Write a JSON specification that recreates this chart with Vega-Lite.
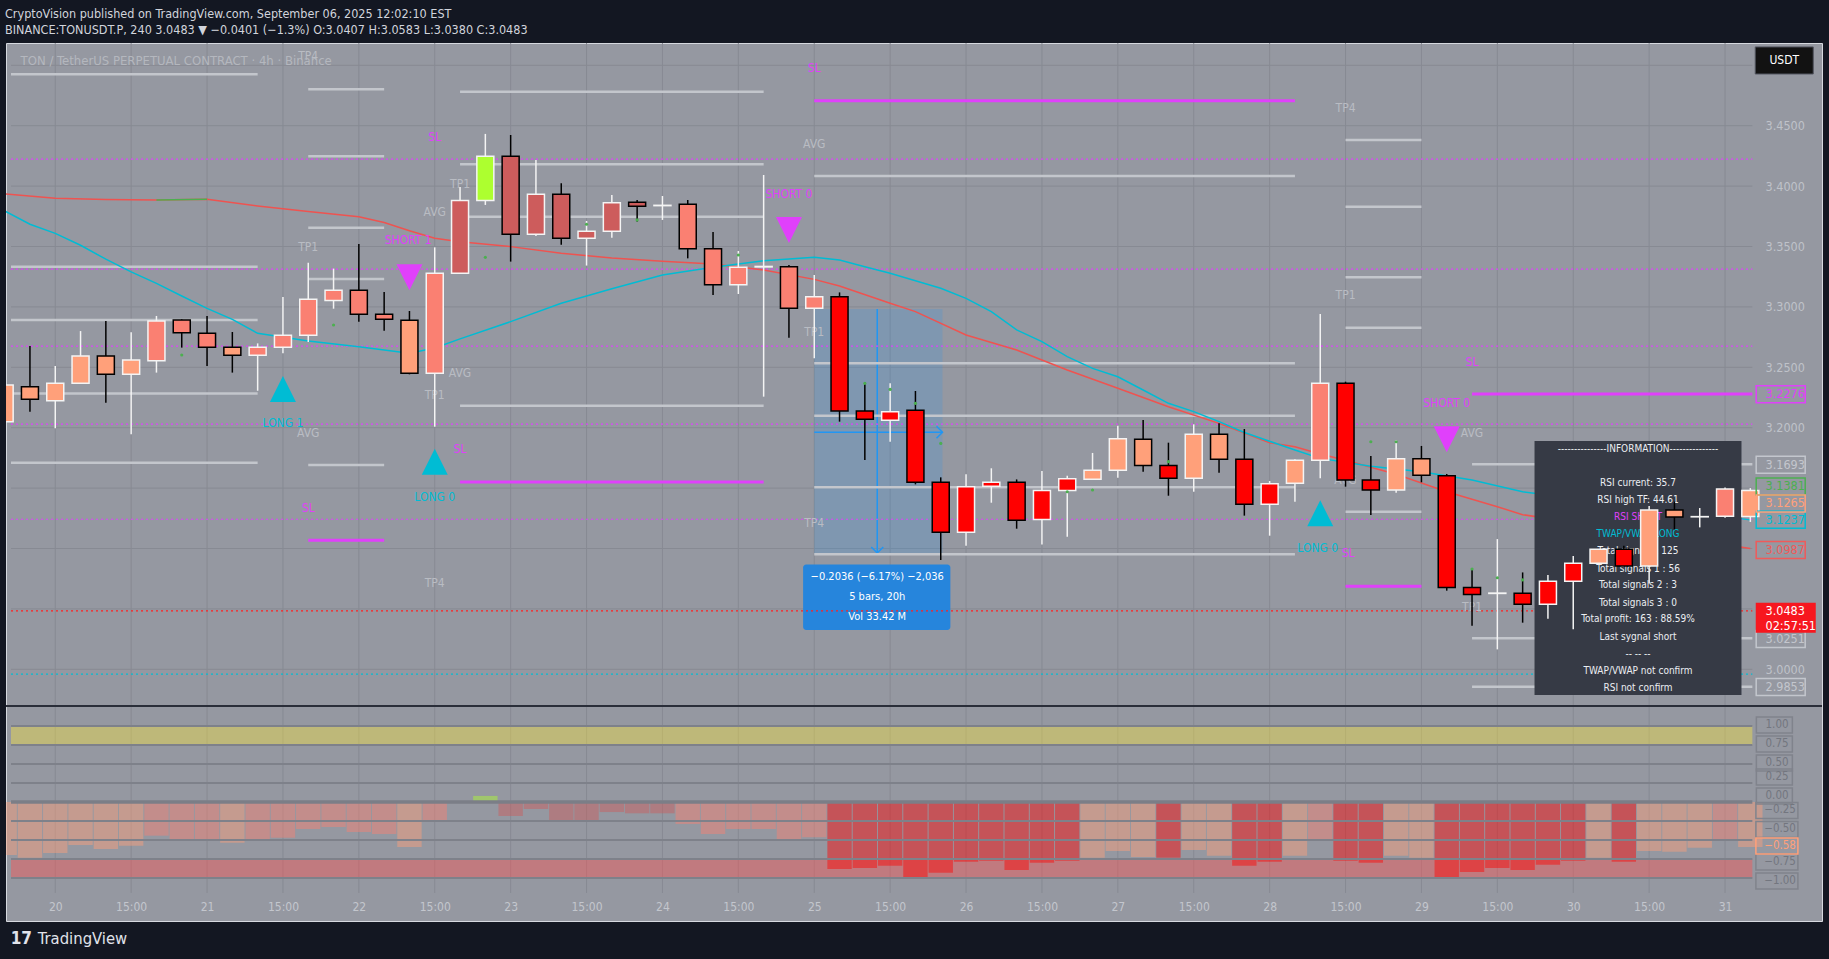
{
"$schema": "https://vega.github.io/schema/vega-lite/v6.json",
"width": 1816, "height": 878,
"autosize": "none",
"padding": {"left": 6, "top": 43, "right": 7, "bottom": 38},
"background": "#131722",
"config": {"view": {"fill": "#9598a1", "stroke": "#d6d9df", "strokeWidth": 1}, "font": "DejaVu Sans Condensed, DejaVu Sans, sans-serif", "text": {"font": "DejaVu Sans Condensed, DejaVu Sans, sans-serif"}},
"title": {"text": "CryptoVision published on TradingView.com, September 06, 2025 12:02:10 EST", "subtitle": "BINANCE:TONUSDT.P, 240  3.0483 ▼ −0.0401 (−1.3%)  O:3.0407  H:3.0583  L:3.0380  C:3.0483", "anchor": "start", "frame": "group", "orient": "top", "offset": 6, "fontSize": 12.5, "fontWeight": "normal", "color": "#d1d4dc", "subtitleFontSize": 12.5, "subtitleColor": "#d1d4dc", "subtitlePadding": 4, "font": "DejaVu Sans Condensed, DejaVu Sans, sans-serif", "subtitleFont": "DejaVu Sans Condensed, DejaVu Sans, sans-serif", "dx": -1},
"datasets": {
"candles": [
{"i":-2,"o":3.205,"h":3.24,"l":3.198,"c":3.2353,"k":"ls"},
{"i":-1,"o":3.234,"h":3.2677,"l":3.2133,"c":3.2235,"k":"ls"},
{"i":0,"o":3.2224,"h":3.251,"l":3.1995,"c":3.2367,"k":"ls"},
{"i":1,"o":3.2367,"h":3.28,"l":3.2367,"c":3.2594,"k":"ls"},
{"i":2,"o":3.2594,"h":3.2883,"l":3.2207,"c":3.2442,"k":"ls"},
{"i":3,"o":3.2442,"h":3.279,"l":3.1945,"c":3.256,"k":"ls"},
{"i":4,"o":3.2555,"h":3.2925,"l":3.2456,"c":3.2883,"k":"s"},
{"i":5,"o":3.2892,"h":3.2897,"l":3.2663,"c":3.2787,"k":"s"},
{"i":6,"o":3.2781,"h":3.2925,"l":3.251,"c":3.2665,"k":"s"},
{"i":7,"o":3.2665,"h":3.2792,"l":3.2456,"c":3.2599,"k":"ls"},
{"i":8,"o":3.2599,"h":3.2698,"l":3.2306,"c":3.2665,"k":"s"},
{"i":9,"o":3.2665,"h":3.3082,"l":3.2616,"c":3.2765,"k":"s"},
{"i":10,"o":3.2765,"h":3.3366,"l":3.271,"c":3.3063,"k":"s"},
{"i":11,"o":3.3054,"h":3.3317,"l":3.2985,"c":3.3137,"k":"s"},
{"i":12,"o":3.3137,"h":3.3521,"l":3.2878,"c":3.2939,"k":"s"},
{"i":13,"o":3.2939,"h":3.3123,"l":3.2803,"c":3.2897,"k":"s"},
{"i":14,"o":3.2889,"h":3.2966,"l":3.2442,"c":3.245,"k":"ls"},
{"i":15,"o":3.245,"h":3.3493,"l":3.2008,"c":3.3278,"k":"s"},
{"i":16,"o":3.3278,"h":3.3993,"l":3.3278,"c":3.388,"k":"ir"},
{"i":17,"o":3.388,"h":3.4432,"l":3.3844,"c":3.4247,"k":"g"},
{"i":18,"o":3.4247,"h":3.4423,"l":3.3375,"c":3.3601,"k":"ir"},
{"i":19,"o":3.3601,"h":3.4216,"l":3.3587,"c":3.3932,"k":"ir"},
{"i":20,"o":3.3932,"h":3.4023,"l":3.3515,"c":3.3568,"k":"ir"},
{"i":21,"o":3.3568,"h":3.3711,"l":3.3342,"c":3.3626,"k":"ir"},
{"i":22,"o":3.3626,"h":3.3927,"l":3.3573,"c":3.3863,"k":"ir"},
{"i":23,"o":3.3866,"h":3.3885,"l":3.3706,"c":3.3833,"k":"ir"},
{"i":24,"o":3.3838,"h":3.3918,"l":3.372,"c":3.3841,"k":"w"},
{"i":25,"o":3.3849,"h":3.3885,"l":3.3402,"c":3.3482,"k":"s"},
{"i":26,"o":3.3482,"h":3.362,"l":3.3099,"c":3.3184,"k":"s"},
{"i":27,"o":3.3184,"h":3.3463,"l":3.3107,"c":3.3328,"k":"s"},
{"i":28,"o":3.3331,"h":3.4092,"l":3.2257,"c":3.3335,"k":"w"},
{"i":29,"o":3.3333,"h":3.3347,"l":3.2745,"c":3.2988,"k":"s"},
{"i":30,"o":3.2988,"h":3.3264,"l":3.2574,"c":3.3085,"k":"s"},
{"i":31,"o":3.3085,"h":3.312,"l":3.205,"c":3.2138,"k":"r"},
{"i":32,"o":3.2138,"h":3.2376,"l":3.1733,"c":3.2069,"k":"r"},
{"i":33,"o":3.2061,"h":3.2367,"l":3.1884,"c":3.2133,"k":"r"},
{"i":34,"o":3.2144,"h":3.2304,"l":3.1531,"c":3.1548,"k":"r"},
{"i":35,"o":3.1548,"h":3.1589,"l":3.0905,"c":3.1134,"k":"r"},
{"i":36,"o":3.1134,"h":3.1614,"l":3.1023,"c":3.1512,"k":"r"},
{"i":37,"o":3.1515,"h":3.1664,"l":3.1379,"c":3.1548,"k":"r"},
{"i":38,"o":3.1548,"h":3.1572,"l":3.1164,"c":3.1233,"k":"r"},
{"i":39,"o":3.1241,"h":3.1642,"l":3.1034,"c":3.1481,"k":"r"},
{"i":40,"o":3.1481,"h":3.1603,"l":3.1098,"c":3.1578,"k":"r"},
{"i":41,"o":3.1573,"h":3.1791,"l":3.1567,"c":3.1647,"k":"ls"},
{"i":42,"o":3.1647,"h":3.2017,"l":3.1586,"c":3.1909,"k":"ls"},
{"i":43,"o":3.1904,"h":3.2064,"l":3.1636,"c":3.1688,"k":"ls"},
{"i":44,"o":3.1688,"h":3.1876,"l":3.1437,"c":3.1581,"k":"r"},
{"i":45,"o":3.1581,"h":3.2028,"l":3.147,"c":3.1945,"k":"ls"},
{"i":46,"o":3.1945,"h":3.2036,"l":3.1628,"c":3.1738,"k":"ls"},
{"i":47,"o":3.1738,"h":3.1989,"l":3.1272,"c":3.1366,"k":"r"},
{"i":48,"o":3.1366,"h":3.1559,"l":3.1106,"c":3.1537,"k":"r"},
{"i":49,"o":3.154,"h":3.1738,"l":3.1388,"c":3.173,"k":"ls"},
{"i":50,"o":3.173,"h":3.2941,"l":3.1581,"c":3.2367,"k":"s"},
{"i":51,"o":3.2367,"h":3.2381,"l":3.1512,"c":3.1567,"k":"r"},
{"i":52,"o":3.1567,"h":3.1766,"l":3.1277,"c":3.1484,"k":"r"},
{"i":53,"o":3.1484,"h":3.1898,"l":3.1462,"c":3.1744,"k":"ls"},
{"i":54,"o":3.1744,"h":3.1849,"l":3.1548,"c":3.1606,"k":"ls"},
{"i":55,"o":3.1603,"h":3.1617,"l":3.0651,"c":3.0678,"k":"r"},
{"i":56,"o":3.0678,"h":3.083,"l":3.0361,"c":3.062,"k":"r"},
{"i":57,"o":3.0628,"h":3.1078,"l":3.0165,"c":3.0631,"k":"w"},
{"i":58,"o":3.0629,"h":3.0802,"l":3.0386,"c":3.0538,"k":"r"},
{"i":59,"o":3.0538,"h":3.078,"l":3.0419,"c":3.0728,"k":"r"},
{"i":60,"o":3.0728,"h":3.0938,"l":3.0331,"c":3.0877,"k":"r"},
{"i":61,"o":3.0877,"h":3.0993,"l":3.0877,"c":3.0993,"k":"ls"},
{"i":62,"o":3.0993,"h":3.1023,"l":3.0855,"c":3.0855,"k":"r"},
{"i":63,"o":3.0855,"h":3.1352,"l":3.0711,"c":3.1319,"k":"ls"},
{"i":64,"o":3.1319,"h":3.1388,"l":3.1158,"c":3.1261,"k":"ls"},
{"i":65,"o":3.1262,"h":3.1335,"l":3.1175,"c":3.1264,"k":"w"},
{"i":66,"o":3.1266,"h":3.1506,"l":3.1255,"c":3.1493,"k":"s"},
{"i":67,"o":3.1265,"h":3.15,"l":3.122,"c":3.148,"k":"ls"}
],
"osc": [
{"i":-2,"v":-0.697,"k":"ls"},{"i":-1,"v":-0.733,"k":"ls"},{"i":0,"v":-0.671,"k":"ls"},{"i":1,"v":-0.566,"k":"ls"},{"i":2,"v":-0.618,"k":"ls"},{"i":3,"v":-0.575,"k":"ls"},{"i":4,"v":-0.443,"k":"s"},{"i":5,"v":-0.487,"k":"s"},{"i":6,"v":-0.5,"k":"s"},{"i":7,"v":-0.535,"k":"ls"},{"i":8,"v":-0.5,"k":"s"},{"i":9,"v":-0.47,"k":"s"},{"i":10,"v":-0.355,"k":"s"},{"i":11,"v":-0.329,"k":"s"},{"i":12,"v":-0.395,"k":"s"},{"i":13,"v":-0.421,"k":"s"},{"i":14,"v":-0.592,"k":"ls"},{"i":15,"v":-0.254,"k":"s"},{"i":16,"v":0,"k":"ir"},{"i":17,"v":0.08,"k":"g"},{"i":18,"v":-0.184,"k":"ir"},{"i":19,"v":-0.092,"k":"ir"},{"i":20,"v":-0.259,"k":"ir"},{"i":21,"v":-0.237,"k":"ir"},{"i":22,"v":-0.132,"k":"ir"},{"i":23,"v":-0.149,"k":"ir"},{"i":24,"v":-0.149,"k":"ir"},{"i":25,"v":-0.289,"k":"s"},{"i":26,"v":-0.421,"k":"s"},{"i":27,"v":-0.355,"k":"s"},{"i":28,"v":-0.355,"k":"s"},{"i":29,"v":-0.509,"k":"s"},{"i":30,"v":-0.465,"k":"s"},{"i":31,"v":-0.882,"k":"r"},{"i":32,"v":-0.868,"k":"r"},{"i":33,"v":-0.838,"k":"r"},{"i":34,"v":-0.996,"k":"r"},{"i":35,"v":-0.93,"k":"r"},{"i":36,"v":-0.785,"k":"r"},{"i":37,"v":-0.772,"k":"r"},{"i":38,"v":-0.895,"k":"r"},{"i":39,"v":-0.798,"k":"r"},{"i":40,"v":-0.772,"k":"r"},{"i":41,"v":-0.732,"k":"ls"},{"i":42,"v":-0.645,"k":"ls"},{"i":43,"v":-0.724,"k":"ls"},{"i":44,"v":-0.732,"k":"r"},{"i":45,"v":-0.632,"k":"ls"},{"i":46,"v":-0.706,"k":"ls"},{"i":47,"v":-0.838,"k":"r"},{"i":48,"v":-0.785,"k":"r"},{"i":49,"v":-0.706,"k":"ls"},{"i":50,"v":-0.491,"k":"s"},{"i":51,"v":-0.772,"k":"r"},{"i":52,"v":-0.798,"k":"r"},{"i":53,"v":-0.706,"k":"ls"},{"i":54,"v":-0.732,"k":"ls"},{"i":55,"v":-0.996,"k":"r"},{"i":56,"v":-0.92,"k":"r"},{"i":57,"v":-0.868,"k":"r"},{"i":58,"v":-0.895,"k":"r"},{"i":59,"v":-0.825,"k":"r"},{"i":60,"v":-0.772,"k":"r"},{"i":61,"v":-0.732,"k":"ls"},{"i":62,"v":-0.785,"k":"r"},{"i":63,"v":-0.645,"k":"ls"},{"i":64,"v":-0.654,"k":"ls"},{"i":65,"v":-0.601,"k":"ls"},{"i":66,"v":-0.491,"k":"s"},{"i":67,"v":-0.592,"k":"ls"}
],
"ema": [
{"i":-2,"p":3.3935,"s":"r"},{"i":0,"p":3.3899,"s":"r"},{"i":2,"p":3.389,"s":"r"},{"i":4,"p":3.3885,"s":"r"},{"i":6,"p":3.3891,"s":"r"},{"i":8,"p":3.3836,"s":"r"},{"i":10,"p":3.3789,"s":"r"},{"i":12,"p":3.3747,"s":"r"},{"i":13,"p":3.3698,"s":"r"},{"i":14,"p":3.3631,"s":"r"},{"i":15,"p":3.3568,"s":"r"},{"i":16,"p":3.354,"s":"r"},{"i":18,"p":3.3499,"s":"r"},{"i":20,"p":3.3444,"s":"r"},{"i":22,"p":3.3405,"s":"r"},{"i":24,"p":3.3377,"s":"r"},{"i":26,"p":3.3355,"s":"r"},{"i":28,"p":3.3306,"s":"r"},{"i":30,"p":3.3228,"s":"r"},{"i":31,"p":3.3173,"s":"r"},{"i":33,"p":3.303,"s":"r"},{"i":34,"p":3.2961,"s":"r"},{"i":36,"p":3.2767,"s":"r"},{"i":38,"p":3.2643,"s":"r"},{"i":40,"p":3.2478,"s":"r"},{"i":42,"p":3.2326,"s":"r"},{"i":44,"p":3.2174,"s":"r"},{"i":46,"p":3.2036,"s":"r"},{"i":48,"p":3.1875,"s":"r"},{"i":49,"p":3.1843,"s":"r"},{"i":50,"p":3.1782,"s":"r"},{"i":51,"p":3.173,"s":"r"},{"i":53,"p":3.1614,"s":"r"},{"i":55,"p":3.147,"s":"r"},{"i":57,"p":3.1346,"s":"r"},{"i":58,"p":3.128,"s":"r"},{"i":67,"p":3.1,"s":"r"},
{"i":4,"p":3.3885,"s":"g"},{"i":6,"p":3.3891,"s":"g"},
{"i":-2,"p":3.3795,"s":"c"},{"i":-1,"p":3.3684,"s":"c"},{"i":0,"p":3.3609,"s":"c"},{"i":1,"p":3.351,"s":"c"},{"i":2,"p":3.3395,"s":"c"},{"i":3,"p":3.329,"s":"c"},{"i":4,"p":3.3195,"s":"c"},{"i":5,"p":3.309,"s":"c"},{"i":6,"p":3.2988,"s":"c"},{"i":7,"p":3.2897,"s":"c"},{"i":8,"p":3.2781,"s":"c"},{"i":10,"p":3.2718,"s":"c"},{"i":12,"p":3.2671,"s":"c"},{"i":14,"p":3.2616,"s":"c"},{"i":15,"p":3.266,"s":"c"},{"i":16,"p":3.2735,"s":"c"},{"i":18,"p":3.2878,"s":"c"},{"i":20,"p":3.303,"s":"c"},{"i":22,"p":3.315,"s":"c"},{"i":24,"p":3.3264,"s":"c"},{"i":26,"p":3.3328,"s":"c"},{"i":28,"p":3.3383,"s":"c"},{"i":30,"p":3.341,"s":"c"},{"i":31,"p":3.3388,"s":"c"},{"i":32,"p":3.3333,"s":"c"},{"i":33,"p":3.3278,"s":"c"},{"i":34,"p":3.3217,"s":"c"},{"i":35,"p":3.3154,"s":"c"},{"i":36,"p":3.3071,"s":"c"},{"i":37,"p":3.2961,"s":"c"},{"i":38,"p":3.2809,"s":"c"},{"i":39,"p":3.2712,"s":"c"},{"i":40,"p":3.2588,"s":"c"},{"i":41,"p":3.2491,"s":"c"},{"i":42,"p":3.2422,"s":"c"},{"i":43,"p":3.2312,"s":"c"},{"i":44,"p":3.2202,"s":"c"},{"i":45,"p":3.2133,"s":"c"},{"i":46,"p":3.205,"s":"c"},{"i":47,"p":3.196,"s":"c"},{"i":49,"p":3.1815,"s":"c"},{"i":50,"p":3.1746,"s":"c"},{"i":52,"p":3.168,"s":"c"},{"i":54,"p":3.1636,"s":"c"},{"i":56,"p":3.1567,"s":"c"},{"i":58,"p":3.147,"s":"c"},{"i":67,"p":3.1237,"s":"c"}
],
"levels": [
{"i0":-1.749,"i1":8,"p":3.4926,"k":"tp"},{"i0":-1.749,"i1":8,"p":3.3333,"k":"tp"},{"i0":-1.749,"i1":8,"p":3.2892,"k":"tp"},{"i0":-1.749,"i1":8,"p":3.2284,"k":"tp"},{"i0":-1.749,"i1":8,"p":3.171,"k":"tp"},
{"i0":10,"i1":13,"p":3.4802,"k":"tp"},{"i0":10,"i1":13,"p":3.4247,"k":"tp"},{"i0":10,"i1":13,"p":3.3656,"k":"tp"},{"i0":10,"i1":13,"p":3.3231,"k":"tp"},{"i0":10,"i1":13,"p":3.1691,"k":"tp"},{"i0":10,"i1":13,"p":3.1068,"k":"sl"},
{"i0":16,"i1":28,"p":3.4782,"k":"tp"},{"i0":16,"i1":28,"p":3.418,"k":"tp"},{"i0":16,"i1":28,"p":3.3747,"k":"tp"},{"i0":16,"i1":28,"p":3.2182,"k":"tp"},{"i0":16,"i1":28,"p":3.155,"k":"sl"},
{"i0":30,"i1":49,"p":3.4707,"k":"sl"},{"i0":30,"i1":49,"p":3.4084,"k":"tp"},{"i0":30,"i1":49,"p":3.2533,"k":"tp"},{"i0":30,"i1":49,"p":3.2099,"k":"tp"},{"i0":30,"i1":49,"p":3.1507,"k":"tp"},{"i0":30,"i1":49,"p":3.0952,"k":"tp"},
{"i0":51,"i1":54,"p":3.4381,"k":"tp"},{"i0":51,"i1":54,"p":3.383,"k":"tp"},{"i0":51,"i1":54,"p":3.3245,"k":"tp"},{"i0":51,"i1":54,"p":3.2828,"k":"tp"},{"i0":51,"i1":54,"p":3.1305,"k":"tp"},{"i0":51,"i1":54,"p":3.0687,"k":"sl"},
{"i0":56,"i1":67.08,"p":3.2279,"k":"sl"},{"i0":56,"i1":67.08,"p":3.1697,"k":"tp"},{"i0":56,"i1":67.08,"p":3.0257,"k":"tp"},{"i0":56,"i1":67.08,"p":2.9856,"k":"tp"}
],
"dotted": [{"p":3.4224,"k":"m"},{"p":3.3313,"k":"m"},{"p":3.2676,"k":"m"},{"p":3.203,"k":"m"},{"p":3.1242,"k":"m"},{"p":3.0483,"k":"r"},{"p":2.996,"k":"c"}],
"notes": [
{"i":10,"p":3.5077,"t":"TP4","k":"g"},{"i":15,"p":3.4409,"t":"SL","k":"m"},{"i":16,"p":3.4015,"t":"TP1","k":"g"},{"i":15,"p":3.3788,"t":"AVG","k":"g"},{"i":10,"p":3.3498,"t":"TP1","k":"g"},{"i":13.95,"p":3.3554,"t":"SHORT 1","k":"m"},{"i":16,"p":3.245,"t":"AVG","k":"g"},{"i":15,"p":3.2271,"t":"TP1","k":"g"},{"i":9,"p":3.2036,"t":"LONG 1","k":"c"},{"i":10,"p":3.1959,"t":"AVG","k":"g"},{"i":16,"p":3.1821,"t":"SL","k":"m"},{"i":15,"p":3.1429,"t":"LONG 0","k":"c"},{"i":10,"p":3.1333,"t":"SL","k":"m"},{"i":15,"p":3.0712,"t":"TP4","k":"g"},
{"i":30,"p":3.4975,"t":"SL","k":"m"},{"i":30,"p":3.4346,"t":"AVG","k":"g"},{"i":29,"p":3.3932,"t":"SHORT 0","k":"m"},{"i":30,"p":3.2795,"t":"TP1","k":"g"},{"i":30,"p":3.1214,"t":"TP4","k":"g"},
{"i":51,"p":3.4644,"t":"TP4","k":"g"},{"i":51,"p":3.3098,"t":"TP1","k":"g"},{"i":56,"p":3.2546,"t":"SL","k":"m"},{"i":55,"p":3.2202,"t":"SHORT 0","k":"m"},{"i":56,"p":3.1959,"t":"AVG","k":"g"},{"i":49.9,"p":3.1002,"t":"LONG 0","k":"c"},{"i":51.1,"p":3.096,"t":"SL","k":"m"},{"i":51,"p":3.1567,"t":"AVG","k":"g"},{"i":56,"p":3.0518,"t":"TP1","k":"g"}
],
"signals": [{"i":9,"p":3.232,"d":"up"},{"i":14,"p":3.3245,"d":"down"},{"i":15,"p":3.1719,"d":"up"},{"i":29,"p":3.3637,"d":"down"},{"i":50,"p":3.1291,"d":"up"},{"i":55,"p":3.1904,"d":"down"}],
"dots": [{"i":5,"p":3.2602},{"i":11,"p":3.285},{"i":17,"p":3.341},{"i":21,"p":3.3684},{"i":23,"p":3.372},{"i":27,"p":3.343},{"i":32,"p":3.2367},{"i":33,"p":3.2317},{"i":34,"p":3.2202},{"i":35,"p":3.187},{"i":40,"p":3.147},{"i":41,"p":3.1484},{"i":44,"p":3.1719},{"i":52,"p":3.1884},{"i":53,"p":3.1884},{"i":56,"p":3.083},{"i":57,"p":3.0758},{"i":58,"p":3.074}],
"info": [
{"p":3.1821,"t":"---------------INFORMATION---------------","k":"w"},{"p":3.154,"t":"RSI current: 35.7","k":"w"},{"p":3.1401,"t":"RSI high TF: 44.61","k":"w"},{"p":3.1258,"t":"RSI SHORT","k":"m"},{"p":3.112,"t":"TWAP/VWAP LONG","k":"c"},{"p":3.0977,"t":"Total signals : 125","k":"w"},{"p":3.0833,"t":"Total signals 1 : 56","k":"w"},{"p":3.0695,"t":"Total signals 2 : 3","k":"w"},{"p":3.0551,"t":"Total signals 3 : 0","k":"w"},{"p":3.0414,"t":"Total profit: 163 : 88.59%","k":"w"},{"p":3.027,"t":"Last sygnal short","k":"w"},{"p":3.0127,"t":"-- -- --","k":"w"},{"p":2.9988,"t":"TWAP/VWAP not confirm","k":"w"},{"p":2.9845,"t":"RSI not confirm","k":"w"}
],
"plabels": [{"p":3.2276,"t":"3.2276","k":"m"},{"p":3.1693,"t":"3.1693","k":"g"},{"p":3.1381,"t":"3.1381","k":"gr"},{"p":3.1265,"t":"3.1265","k":"o"},{"p":3.1237,"t":"3.1237","k":"c"},{"p":3.0987,"t":"3.0987","k":"r"},{"p":3.0251,"t":"3.0251","k":"g"},{"p":2.9853,"t":"2.9853","k":"g"}],
"lowlabels": [{"v":1,"t":"1.00"},{"v":0.75,"t":"0.75"},{"v":0.5,"t":"0.50"},{"v":0.25,"t":"0.25"},{"v":0,"t":"0.00"},{"v":-0.25,"t":"−0.25"},{"v":-0.5,"t":"−0.50"},{"v":-0.75,"t":"−0.75"},{"v":-1,"t":"−1.00"},{"v":-0.58,"t":"−0.58"}]
},
"layer": [
{"layer": [
{"data": {"values": [{"i":0},{"i":3},{"i":6},{"i":9},{"i":12},{"i":15},{"i":18},{"i":21},{"i":24},{"i":27},{"i":30},{"i":33},{"i":36},{"i":39},{"i":42},{"i":45},{"i":48},{"i":51},{"i":54},{"i":57},{"i":60},{"i":63},{"i":66}]},
 "mark": {"type": "rule", "stroke": "#878a93", "strokeWidth": 1},
 "encoding": {"x": {"field": "i", "type": "quantitative", "scale": {"domain": [-1.749, 69.635]}},
  "y": {"datum": 2.81482, "type": "quantitative", "scale": {"domain": [2.79164, 3.51846]}}, "y2": {"datum": 3.51846}}},
{"data": {"values": [{"p":3.0},{"p":3.05},{"p":3.1},{"p":3.15},{"p":3.2},{"p":3.25},{"p":3.3},{"p":3.35},{"p":3.4},{"p":3.45},{"p":3.5}]},
 "mark": {"type": "rule", "stroke": "#878a93", "strokeWidth": 1},
 "encoding": {"y": {"field": "p", "type": "quantitative", "scale": {"domain": [2.79164, 3.51846]}, "axis": {"values": [3.0,3.2,3.25,3.3,3.35,3.4,3.45], "format": ".4f", "orient": "right", "offset": -57, "ticks": false, "domain": false, "grid": false, "labelPadding": 0, "labelFontSize": 12.5, "labelColor": "#bfc2c9", "labelFont": "DejaVu Sans Condensed, DejaVu Sans, sans-serif", "title": null, "labelOverlap": false, "labelFlush": false, "labelBound": false, "zindex": 1}},
  "x": {"datum": -1.749, "type": "quantitative", "scale": {"domain": [-1.749, 69.635]}}, "x2": {"datum": 67.08}}},
{"data": {"values": [{}]},
 "mark": {"type": "rect", "fill": "#2685dc", "cornerRadius": 3},
 "encoding": {"x": {"datum": 29.56, "type": "quantitative", "scale": {"domain": [-1.749, 69.635]}}, "x2": {"datum": 35.38},
  "y": {"datum": 3.0325, "type": "quantitative", "scale": {"domain": [2.79164, 3.51846]}}, "y2": {"datum": 3.0867}}},
{"data": {"values": [{"p":3.0767,"t":"−0.2036 (−6.17%) −2,036"},{"p":3.0601,"t":"5 bars, 20h"},{"p":3.0435,"t":"Vol 33.42 M"}]},
 "mark": {"type": "text", "fontSize": 11, "color": "#ffffff", "align": "center", "baseline": "middle"},
 "encoding": {"x": {"datum": 32.49, "type": "quantitative", "scale": {"domain": [-1.749, 69.635]}},
  "y": {"field": "p", "type": "quantitative", "scale": {"domain": [2.79164, 3.51846]}}, "text": {"field": "t"}}},
{"data": {"values": [{}]},
 "mark": {"type": "rect", "fill": "#2196f3", "opacity": 0.19},
 "encoding": {"x": {"datum": 30, "type": "quantitative", "scale": {"domain": [-1.749, 69.635]}}, "x2": {"datum": 35.07},
  "y": {"datum": 3.0954, "type": "quantitative", "scale": {"domain": [2.79164, 3.51846]}}, "y2": {"datum": 3.2983}}},
{"data": {"values": [{"i0":32.49,"i1":32.49,"p0":3.0963,"p1":3.2983},{"i0":30,"i1":35.07,"p0":3.1962,"p1":3.1962}]},
 "mark": {"type": "rule", "stroke": "#2196f3", "strokeWidth": 1.5},
 "encoding": {"x": {"field": "i0", "type": "quantitative", "scale": {"domain": [-1.749, 69.635]}}, "x2": {"field": "i1"},
  "y": {"field": "p0", "type": "quantitative", "scale": {"domain": [2.79164, 3.51846]}}, "y2": {"field": "p1"}}},
{"data": {"values": [{"i":32.49,"p":3.0963,"d":"down"},{"i":35.07,"p":3.1962,"d":"right"}]},
 "mark": {"type": "point", "filled": false, "stroke": "#2196f3", "strokeWidth": 1.5, "size": 144, "opacity": 1},
 "encoding": {"x": {"field": "i", "type": "quantitative", "scale": {"domain": [-1.749, 69.635]}},
  "y": {"field": "p", "type": "quantitative", "scale": {"domain": [2.79164, 3.51846]}},
  "shape": {"condition": {"test": "datum.d == 'down'", "value": "M-1,-1L0,0L1,-1"}, "value": "M-1,-1L0,0L-1,1"}}},
{"data": {"name": "dotted"},
 "mark": {"type": "rule", "strokeWidth": 1.2, "strokeDash": [2, 3]},
 "encoding": {"y": {"field": "p", "type": "quantitative", "scale": {"domain": [2.79164, 3.51846]}},
  "x": {"datum": -1.749, "type": "quantitative", "scale": {"domain": [-1.749, 69.635]}}, "x2": {"datum": 67.08},
  "stroke": {"condition": [{"test": "datum.k == 'r'", "value": "#ff2020"}, {"test": "datum.k == 'c'", "value": "#00bcd4"}], "value": "#e040fb"}}},
{"data": {"name": "levels"},
 "mark": {"type": "rule", "strokeCap": "butt"},
 "encoding": {"x": {"field": "i0", "type": "quantitative", "scale": {"domain": [-1.749, 69.635]}}, "x2": {"field": "i1"},
  "y": {"field": "p", "type": "quantitative", "scale": {"domain": [2.79164, 3.51846]}},
  "stroke": {"condition": {"test": "datum.k == 'sl'", "value": "#e040fb"}, "value": "#c3c6cc"},
  "strokeWidth": {"condition": {"test": "datum.k == 'sl'", "value": 3}, "value": 2.5}}},
{"data": {"name": "ema"}, "transform": [{"filter": "datum.s == 'r'"}],
 "mark": {"type": "line", "stroke": "#ef5350", "strokeWidth": 1.5, "clip": true},
 "encoding": {"x": {"field": "i", "type": "quantitative", "scale": {"domain": [-1.749, 69.635]}},
  "y": {"field": "p", "type": "quantitative", "scale": {"domain": [2.79164, 3.51846]}}}},
{"data": {"name": "ema"}, "transform": [{"filter": "datum.s == 'g'"}],
 "mark": {"type": "line", "stroke": "#4caf50", "strokeWidth": 1.5, "clip": true},
 "encoding": {"x": {"field": "i", "type": "quantitative", "scale": {"domain": [-1.749, 69.635]}},
  "y": {"field": "p", "type": "quantitative", "scale": {"domain": [2.79164, 3.51846]}}}},
{"data": {"name": "ema"}, "transform": [{"filter": "datum.s == 'c'"}],
 "mark": {"type": "line", "stroke": "#00bcd4", "strokeWidth": 1.5, "clip": true},
 "encoding": {"x": {"field": "i", "type": "quantitative", "scale": {"domain": [-1.749, 69.635]}},
  "y": {"field": "p", "type": "quantitative", "scale": {"domain": [2.79164, 3.51846]}}}},
{"data": {"values": [{}]},
 "mark": {"type": "rect", "fill": "#363a45"},
 "encoding": {"x": {"datum": 58.47, "type": "quantitative", "scale": {"domain": [-1.749, 69.635]}}, "x2": {"datum": 66.65},
  "y": {"datum": 2.9787, "type": "quantitative", "scale": {"domain": [2.79164, 3.51846]}}, "y2": {"datum": 3.189}}},
{"data": {"name": "info"},
 "mark": {"type": "text", "fontSize": 10, "align": "center", "baseline": "middle"},
 "encoding": {"x": {"datum": 62.56, "type": "quantitative", "scale": {"domain": [-1.749, 69.635]}},
  "y": {"field": "p", "type": "quantitative", "scale": {"domain": [2.79164, 3.51846]}}, "text": {"field": "t"},
  "color": {"condition": [{"test": "datum.k == 'm'", "value": "#e040fb"}, {"test": "datum.k == 'c'", "value": "#00bcd4"}], "value": "#eceef2"}}},
{"data": {"name": "notes"},
 "mark": {"type": "text", "fontSize": 12, "align": "center", "baseline": "middle"},
 "encoding": {"x": {"field": "i", "type": "quantitative", "scale": {"domain": [-1.749, 69.635]}},
  "y": {"field": "p", "type": "quantitative", "scale": {"domain": [2.79164, 3.51846]}}, "text": {"field": "t"},
  "color": {"condition": [{"test": "datum.k == 'm'", "value": "#e040fb"}, {"test": "datum.k == 'c'", "value": "#00bcd4"}], "value": "#b9bcc3"}}},
{"data": {"name": "candles"},
 "mark": {"type": "rule", "strokeWidth": 1.5, "clip": true},
 "encoding": {"x": {"field": "i", "type": "quantitative", "scale": {"domain": [-1.749, 69.635]}},
  "y": {"field": "l", "type": "quantitative", "scale": {"domain": [2.79164, 3.51846]}}, "y2": {"field": "h"},
  "stroke": {"condition": {"test": "datum.c >= datum.o", "value": "#f4f4f4"}, "value": "#000000"}}},
{"data": {"name": "candles"},
 "mark": {"type": "bar", "size": 17, "strokeWidth": 1.5, "clip": true},
 "encoding": {"x": {"field": "i", "type": "quantitative", "scale": {"domain": [-1.749, 69.635]}},
  "y": {"field": "o", "type": "quantitative", "scale": {"domain": [2.79164, 3.51846]}}, "y2": {"field": "c"},
  "fill": {"field": "k", "type": "nominal", "scale": {"domain": ["ls","s","ir","r","g","w"], "range": ["#ffa07a","#fa8072","#cd5c5c","#ff0000","#adff2f","#e8e8e8"]}, "legend": null},
  "stroke": {"condition": {"test": "datum.c >= datum.o", "value": "#f4f4f4"}, "value": "#000000"}}},
{"data": {"name": "signals"},
 "mark": {"type": "point", "filled": true, "size": 676, "opacity": 1, "strokeWidth": 0},
 "encoding": {"x": {"field": "i", "type": "quantitative", "scale": {"domain": [-1.749, 69.635]}},
  "y": {"field": "p", "type": "quantitative", "scale": {"domain": [2.79164, 3.51846]}},
  "shape": {"condition": {"test": "datum.d == 'up'", "value": "M-1,1L1,1L0,-1Z"}, "value": "M-1,-1L1,-1L0,1Z"},
  "fill": {"condition": {"test": "datum.d == 'up'", "value": "#00bcd4"}, "value": "#e040fb"}}},
{"data": {"name": "dots"},
 "mark": {"type": "point", "filled": true, "size": 10, "fill": "#4caf50", "opacity": 1, "strokeWidth": 0},
 "encoding": {"x": {"field": "i", "type": "quantitative", "scale": {"domain": [-1.749, 69.635]}},
  "y": {"field": "p", "type": "quantitative", "scale": {"domain": [2.79164, 3.51846]}}}},
{"data": {"name": "plabels"}, "transform": [{"filter": "datum.t != '3.1381' && datum.t != '3.1265'"}],
 "mark": {"type": "point", "filled": false, "size": 2401, "strokeWidth": 1.5, "opacity": 1, "shape": "M-1,-0.347H1V0.347H-1Z"},
 "encoding": {"x": {"datum": 68.2, "type": "quantitative", "scale": {"domain": [-1.749, 69.635]}},
  "y": {"field": "p", "type": "quantitative", "scale": {"domain": [2.79164, 3.51846]}},
  "stroke": {"condition": [{"test": "datum.k == 'm'", "value": "#e040fb"}, {"test": "datum.k == 'c'", "value": "#00bcd4"}, {"test": "datum.k == 'r'", "value": "#f05a5a"}], "value": "#c3c6cd"}}},
{"data": {"name": "plabels"}, "transform": [{"filter": "datum.t == '3.1381'"}],
 "mark": {"type": "point", "filled": false, "size": 2401, "strokeWidth": 1.5, "opacity": 1, "shape": "M-1,-1H1V-0.306H-1Z", "stroke": "#4caf50"},
 "encoding": {"x": {"datum": 68.2, "type": "quantitative", "scale": {"domain": [-1.749, 69.635]}},
  "y": {"field": "p", "type": "quantitative", "scale": {"domain": [2.79164, 3.51846]}}}},
{"data": {"name": "plabels"}, "transform": [{"filter": "datum.t == '3.1265'"}],
 "mark": {"type": "point", "filled": false, "size": 2401, "strokeWidth": 1.5, "opacity": 1, "shape": "M-1,-0.878H1V-0.184H-1Z", "stroke": "#ffa07a"},
 "encoding": {"x": {"datum": 68.2, "type": "quantitative", "scale": {"domain": [-1.749, 69.635]}},
  "y": {"field": "p", "type": "quantitative", "scale": {"domain": [2.79164, 3.51846]}}}},
{"data": {"name": "plabels"}, "transform": [{"filter": "datum.t != '3.1381' && datum.t != '3.1265'"}],
 "mark": {"type": "text", "fontSize": 12.5, "align": "left", "baseline": "middle"},
 "encoding": {"x": {"datum": 67.6, "type": "quantitative", "scale": {"domain": [-1.749, 69.635]}},
  "y": {"field": "p", "type": "quantitative", "scale": {"domain": [2.79164, 3.51846]}}, "text": {"field": "t"},
  "color": {"condition": [{"test": "datum.k == 'm'", "value": "#e040fb"}, {"test": "datum.k == 'c'", "value": "#00bcd4"}, {"test": "datum.k == 'r'", "value": "#f05a5a"}], "value": "#c3c6cd"}}},
{"data": {"name": "plabels"}, "transform": [{"filter": "datum.t == '3.1381'"}],
 "mark": {"type": "text", "fontSize": 12.5, "align": "left", "baseline": "middle", "dy": -16, "color": "#4caf50"},
 "encoding": {"x": {"datum": 67.6, "type": "quantitative", "scale": {"domain": [-1.749, 69.635]}},
  "y": {"field": "p", "type": "quantitative", "scale": {"domain": [2.79164, 3.51846]}}, "text": {"field": "t"}}},
{"data": {"name": "plabels"}, "transform": [{"filter": "datum.t == '3.1265'"}],
 "mark": {"type": "text", "fontSize": 12.5, "align": "left", "baseline": "middle", "dy": -13, "color": "#ffa07a"},
 "encoding": {"x": {"datum": 67.6, "type": "quantitative", "scale": {"domain": [-1.749, 69.635]}},
  "y": {"field": "p", "type": "quantitative", "scale": {"domain": [2.79164, 3.51846]}}, "text": {"field": "t"}}},
{"data": {"values": [{"p": 3.0483}]},
 "mark": {"type": "point", "filled": true, "size": 3600, "opacity": 1, "fill": "#f7171f", "strokeWidth": 0, "shape": "M-1,-0.27H1V0.73H-1Z"},
 "encoding": {"x": {"datum": 68.4, "type": "quantitative", "scale": {"domain": [-1.749, 69.635]}},
  "y": {"field": "p", "type": "quantitative", "scale": {"domain": [2.79164, 3.51846]}}}},
{"data": {"values": [{"p": 3.0483, "t": "3.0483"}]},
 "mark": {"type": "text", "fontSize": 12.5, "align": "left", "baseline": "middle", "color": "#ffffff"},
 "encoding": {"x": {"datum": 67.6, "type": "quantitative", "scale": {"domain": [-1.749, 69.635]}},
  "y": {"field": "p", "type": "quantitative", "scale": {"domain": [2.79164, 3.51846]}}, "text": {"field": "t"}}},
{"data": {"values": [{"p": 3.0483, "t": "02:57:51"}]},
 "mark": {"type": "text", "fontSize": 12.5, "align": "left", "baseline": "middle", "color": "#ffffff", "dy": 15},
 "encoding": {"x": {"datum": 67.6, "type": "quantitative", "scale": {"domain": [-1.749, 69.635]}},
  "y": {"field": "p", "type": "quantitative", "scale": {"domain": [2.79164, 3.51846]}}, "text": {"field": "t"}}},
{"data": {"values": [{"t": "TON / TetherUS PERPETUAL CONTRACT · 4h · Binance"}]},
 "mark": {"type": "text", "fontSize": 13, "align": "left", "baseline": "middle", "color": "#b4b7be"},
 "encoding": {"x": {"datum": -1.37, "type": "quantitative", "scale": {"domain": [-1.749, 69.635]}},
  "y": {"datum": 3.5038, "type": "quantitative", "scale": {"domain": [2.79164, 3.51846]}}, "text": {"field": "t"}}},
{"data": {"values": [{}]},
 "mark": {"type": "point", "filled": true, "size": 3364, "opacity": 1, "fill": "#121212", "stroke": "#50535e", "strokeWidth": 1, "shape": "M-1,-0.466H1V0.466H-1Z"},
 "encoding": {"x": {"datum": 68.34, "type": "quantitative", "scale": {"domain": [-1.749, 69.635]}},
  "y": {"datum": 3.504, "type": "quantitative", "scale": {"domain": [2.79164, 3.51846]}}}},
{"data": {"values": [{"t": "USDT"}]},
 "mark": {"type": "text", "fontSize": 12, "align": "center", "baseline": "middle", "color": "#ffffff"},
 "encoding": {"x": {"datum": 68.34, "type": "quantitative", "scale": {"domain": [-1.749, 69.635]}},
  "y": {"datum": 3.504, "type": "quantitative", "scale": {"domain": [2.79164, 3.51846]}}, "text": {"field": "t"}}},
{"data": {"values": [{"t": "17"}]},
 "mark": {"type": "text", "fontSize": 17, "fontWeight": "bold", "align": "left", "baseline": "middle", "color": "#e0e3eb"},
 "encoding": {"x": {"datum": -1.761, "type": "quantitative", "scale": {"domain": [-1.749, 69.635]}},
  "y": {"datum": 2.7767, "type": "quantitative", "scale": {"domain": [2.79164, 3.51846]}}, "text": {"field": "t"}}},
{"data": {"values": [{"t": "TradingView"}]},
 "mark": {"type": "text", "fontSize": 16.5, "align": "left", "baseline": "middle", "color": "#e0e3eb"},
 "encoding": {"x": {"datum": -0.688, "type": "quantitative", "scale": {"domain": [-1.749, 69.635]}},
  "y": {"datum": 2.7767, "type": "quantitative", "scale": {"domain": [2.79164, 3.51846]}}, "text": {"field": "t"}}}
]},
{"layer": [
{"data": {"values": [{}]},
 "mark": {"type": "rect", "fill": "#ffeb3b", "opacity": 0.39},
 "encoding": {"x": {"datum": -1.749, "type": "quantitative", "scale": {"domain": [-1.749, 69.635]}}, "x2": {"datum": 67.08},
  "y": {"datum": 0.75, "type": "quantitative", "scale": {"domain": [-1.56579, 9.98684]}, "axis": null}, "y2": {"datum": 1.0}}},
{"data": {"values": [{}]},
 "mark": {"type": "rect", "fill": "#ff5252", "opacity": 0.42},
 "encoding": {"x": {"datum": -1.749, "type": "quantitative", "scale": {"domain": [-1.749, 69.635]}}, "x2": {"datum": 67.08},
  "y": {"datum": -1.0, "type": "quantitative", "scale": {"domain": [-1.56579, 9.98684]}, "axis": null}, "y2": {"datum": -0.75}}},
{"data": {"name": "osc"},
 "mark": {"type": "bar", "size": 24.4, "fillOpacity": 0.45, "strokeWidth": 0, "clip": true},
 "encoding": {"x": {"field": "i", "type": "quantitative", "scale": {"domain": [-1.749, 69.635]},
   "axis": {"values": [0,3,6,9,12,15,18,21,24,27,30,33,36,39,42,45,48,51,54,57,60,63,66], "labelExpr": "datum.value % 6 == 0 ? '' + (20 + datum.value / 6) : '15:00'", "orient": "bottom", "offset": -30, "ticks": false, "domain": false, "grid": false, "labelPadding": 10, "labelFontSize": 12, "labelColor": "#c3c6cd", "labelFont": "DejaVu Sans Condensed, DejaVu Sans, sans-serif", "title": null, "labelOverlap": false, "labelFlush": false, "labelBound": false, "zindex": 1}},
  "y": {"field": "v", "type": "quantitative", "scale": {"domain": [-1.56579, 9.98684]}, "axis": null}, "y2": {"datum": 0},
  "fill": {"field": "k", "type": "nominal", "scale": {"domain": ["ls","s","ir","r","g","w"], "range": ["#ffa07a","#fa8072","#cd5c5c","#ff0000","#adff2f","#e8e8e8"]}, "legend": null}}},
{"data": {"values": [{"v":1},{"v":0.75},{"v":0.5},{"v":0.25},{"v":-0.25},{"v":-0.5},{"v":-0.75},{"v":-1}]},
 "mark": {"type": "rule", "stroke": "#7e818a", "strokeWidth": 2},
 "encoding": {"y": {"field": "v", "type": "quantitative", "scale": {"domain": [-1.56579, 9.98684]}, "axis": null},
  "x": {"datum": -1.749, "type": "quantitative", "scale": {"domain": [-1.749, 69.635]}}, "x2": {"datum": 67.08}}},
{"data": {"values": [{"v":0}]},
 "mark": {"type": "rule", "stroke": "#7b7e87", "strokeWidth": 3.5},
 "encoding": {"y": {"field": "v", "type": "quantitative", "scale": {"domain": [-1.56579, 9.98684]}, "axis": null},
  "x": {"datum": -1.749, "type": "quantitative", "scale": {"domain": [-1.749, 69.635]}}, "x2": {"datum": 67.08}}},
{"data": {"values": [{"v":1.2632}]},
 "mark": {"type": "rule", "stroke": "#2a2e39", "strokeWidth": 2},
 "encoding": {"y": {"field": "v", "type": "quantitative", "scale": {"domain": [-1.56579, 9.98684]}, "axis": null}}},
{"data": {"name": "lowlabels"}, "transform": [{"filter": "datum.v >= 0.5"}],
 "mark": {"type": "point", "filled": false, "size": 1296, "strokeWidth": 1.5, "opacity": 1, "stroke": "#80838c", "shape": "M-1,-0.5H1V0.389H-1Z"},
 "encoding": {"x": {"datum": 67.95, "type": "quantitative", "scale": {"domain": [-1.749, 69.635]}},
  "y": {"field": "v", "type": "quantitative", "scale": {"domain": [-1.56579, 9.98684]}, "axis": null}}},
{"data": {"name": "lowlabels"}, "transform": [{"filter": "datum.v >= 0.5"}],
 "mark": {"type": "text", "fontSize": 11.5, "align": "left", "baseline": "middle", "color": "#73767f", "dy": -1},
 "encoding": {"x": {"datum": 67.6, "type": "quantitative", "scale": {"domain": [-1.749, 69.635]}},
  "y": {"field": "v", "type": "quantitative", "scale": {"domain": [-1.56579, 9.98684]}, "axis": null}, "text": {"field": "t"}}},
{"data": {"name": "lowlabels"}, "transform": [{"filter": "datum.v == 0.25 || datum.v == 0"}],
 "mark": {"type": "point", "filled": false, "size": 1296, "strokeWidth": 1.5, "opacity": 1, "stroke": "#80838c", "shape": "M-1,-0.778H1V0.111H-1Z"},
 "encoding": {"x": {"datum": 67.95, "type": "quantitative", "scale": {"domain": [-1.749, 69.635]}},
  "y": {"field": "v", "type": "quantitative", "scale": {"domain": [-1.56579, 9.98684]}, "axis": null}}},
{"data": {"name": "lowlabels"}, "transform": [{"filter": "datum.v == 0.25 || datum.v == 0"}],
 "mark": {"type": "text", "fontSize": 11.5, "align": "left", "baseline": "middle", "color": "#73767f", "dy": -6},
 "encoding": {"x": {"datum": 67.6, "type": "quantitative", "scale": {"domain": [-1.749, 69.635]}},
  "y": {"field": "v", "type": "quantitative", "scale": {"domain": [-1.56579, 9.98684]}, "axis": null}, "text": {"field": "t"}}},
{"data": {"name": "lowlabels"}, "transform": [{"filter": "datum.v == -0.25 || datum.v == -0.5"}],
 "mark": {"type": "point", "filled": false, "size": 1764, "strokeWidth": 1.5, "opacity": 1, "stroke": "#80838c", "shape": "M-1,-0.881H1V-0.119H-1Z"},
 "encoding": {"x": {"datum": 68.05, "type": "quantitative", "scale": {"domain": [-1.749, 69.635]}},
  "y": {"field": "v", "type": "quantitative", "scale": {"domain": [-1.56579, 9.98684]}, "axis": null}}},
{"data": {"name": "lowlabels"}, "transform": [{"filter": "datum.v == -0.25 || datum.v == -0.5"}],
 "mark": {"type": "text", "fontSize": 11.5, "align": "left", "baseline": "middle", "color": "#73767f", "dy": -10.5},
 "encoding": {"x": {"datum": 67.55, "type": "quantitative", "scale": {"domain": [-1.749, 69.635]}},
  "y": {"field": "v", "type": "quantitative", "scale": {"domain": [-1.56579, 9.98684]}, "axis": null}, "text": {"field": "t"}}},
{"data": {"name": "lowlabels"}, "transform": [{"filter": "datum.v == -0.75 || datum.v == -1"}],
 "mark": {"type": "point", "filled": false, "size": 1764, "strokeWidth": 1.5, "opacity": 1, "stroke": "#80838c", "shape": "M-1,-0.238H1V0.524H-1Z"},
 "encoding": {"x": {"datum": 68.05, "type": "quantitative", "scale": {"domain": [-1.749, 69.635]}},
  "y": {"field": "v", "type": "quantitative", "scale": {"domain": [-1.56579, 9.98684]}, "axis": null}}},
{"data": {"name": "lowlabels"}, "transform": [{"filter": "datum.v == -0.75 || datum.v == -1"}],
 "mark": {"type": "text", "fontSize": 11.5, "align": "left", "baseline": "middle", "color": "#73767f", "dy": 3},
 "encoding": {"x": {"datum": 67.55, "type": "quantitative", "scale": {"domain": [-1.749, 69.635]}},
  "y": {"field": "v", "type": "quantitative", "scale": {"domain": [-1.56579, 9.98684]}, "axis": null}, "text": {"field": "t"}}},
{"data": {"name": "lowlabels"}, "transform": [{"filter": "datum.v == -0.58"}],
 "mark": {"type": "point", "filled": false, "size": 1764, "strokeWidth": 1.5, "opacity": 1, "stroke": "#ffa07a", "shape": "M-1,-0.381H1V0.381H-1Z"},
 "encoding": {"x": {"datum": 68.05, "type": "quantitative", "scale": {"domain": [-1.749, 69.635]}},
  "y": {"field": "v", "type": "quantitative", "scale": {"domain": [-1.56579, 9.98684]}, "axis": null}}},
{"data": {"name": "lowlabels"}, "transform": [{"filter": "datum.v == -0.58"}],
 "mark": {"type": "text", "fontSize": 11.5, "align": "left", "baseline": "middle", "color": "#ffa07a"},
 "encoding": {"x": {"datum": 67.55, "type": "quantitative", "scale": {"domain": [-1.749, 69.635]}},
  "y": {"field": "v", "type": "quantitative", "scale": {"domain": [-1.56579, 9.98684]}, "axis": null}, "text": {"field": "t"}}}
]}
],
"resolve": {"scale": {"y": "independent"}}
}
